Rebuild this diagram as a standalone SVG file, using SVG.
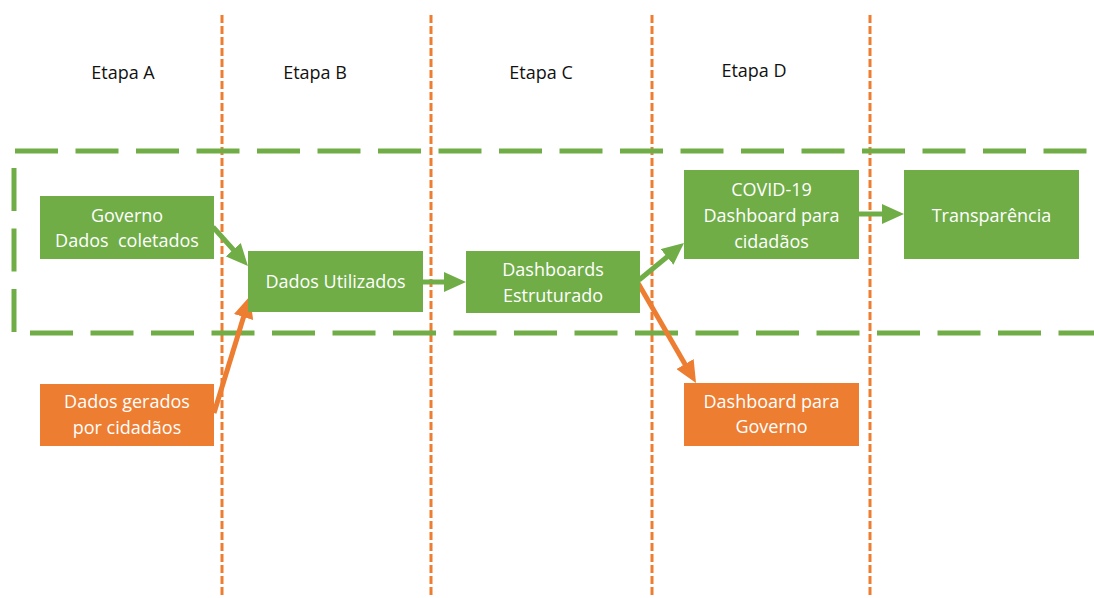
<svg xmlns="http://www.w3.org/2000/svg" width="1094" height="598" viewBox="0 0 1094 598">
  <defs>
    <style>
      .bg { fill: #ffffff; }
      .stage-line { stroke: #ED7D31; stroke-width: 3; stroke-dasharray: 8 3; fill: none; }
      .scope { stroke: #70AD47; stroke-width: 5; stroke-dasharray: 43 17.5; fill: none; }
      .stage-label { font-family: "Open Sans", "Liberation Sans", sans-serif; font-size: 18px; fill: #111111; text-anchor: middle; }
      .box-green { fill: #70AD47; }
      .box-orange { fill: #ED7D31; }
      .box-text { font-family: "Open Sans", "Liberation Sans", sans-serif; font-size: 18px; fill: #ffffff; text-anchor: middle; }
      .link-green { stroke: #70AD47; stroke-width: 5; fill: none; }
      .link-orange { stroke: #ED7D31; stroke-width: 5; fill: none; }
    </style>
    <!-- heads reach 10px past the line end so the butt cap stays hidden -->
    <marker id="head-green" viewBox="0 0 22 20" refX="12" refY="10" markerWidth="22" markerHeight="20" markerUnits="userSpaceOnUse" orient="auto">
      <path d="M0,0 L22,10 L0,20 z" fill="#70AD47"/>
    </marker>
    <marker id="head-orange" viewBox="0 0 22 20" refX="12" refY="10" markerWidth="22" markerHeight="20" markerUnits="userSpaceOnUse" orient="auto">
      <path d="M0,0 L22,10 L0,20 z" fill="#ED7D31"/>
    </marker>
  </defs>

  <rect class="bg" x="0" y="0" width="1094" height="598"/>

  <!-- stage separators -->
  <g id="stages">
    <line class="stage-line" x1="222" y1="15" x2="222" y2="598"/>
    <line class="stage-line" x1="431" y1="15" x2="431" y2="598"/>
    <line class="stage-line" x1="652" y1="15" x2="652" y2="598"/>
    <line class="stage-line" x1="870" y1="15" x2="870" y2="598"/>
    <text class="stage-label" x="123" y="79">Etapa A</text>
    <text class="stage-label" x="315" y="79">Etapa B</text>
    <text class="stage-label" x="541" y="79">Etapa C</text>
    <text class="stage-label" x="754" y="77">Etapa D</text>
  </g>

  <!-- open dashed frame around the public flow -->
  <g id="scope">
    <line class="scope" x1="15" y1="151" x2="1094" y2="151"/>
    <line class="scope" x1="30" y1="333" x2="1094" y2="333"/>
    <line class="scope" x1="14" y1="168" x2="14" y2="333"/>
  </g>

  <!-- connectors -->
  <g id="connectors">
    <line class="link-green" x1="213" y1="227" x2="241.3" y2="258.6" marker-end="url(#head-green)"/>
    <line class="link-orange" x1="214" y1="413" x2="247.1" y2="305.6" marker-end="url(#head-orange)"/>
    <line class="link-green" x1="423" y1="282" x2="456" y2="282" marker-end="url(#head-green)"/>
    <line class="link-green" x1="639" y1="280" x2="676.3" y2="249.3" marker-end="url(#head-green)"/>
    <line class="link-orange" x1="638" y1="283" x2="691" y2="374.4" marker-end="url(#head-orange)"/>
    <line class="link-green" x1="859" y1="214" x2="894" y2="214" marker-end="url(#head-green)"/>
  </g>

  <g id="governo">
    <rect class="box-green" x="40" y="196" width="174" height="63"/>
    <text class="box-text" x="127" y="222">Governo</text>
    <text class="box-text" x="127" y="247" xml:space="preserve">Dados  coletados</text>
  </g>

  <g id="dados-gerados">
    <rect class="box-orange" x="40" y="384" width="174" height="62"/>
    <text class="box-text" x="127" y="408">Dados gerados</text>
    <text class="box-text" x="127" y="434">por cidadãos</text>
  </g>

  <g id="dados-utilizados">
    <rect class="box-green" x="248" y="251" width="175" height="61"/>
    <text class="box-text" x="335.5" y="288">Dados Utilizados</text>
  </g>

  <g id="dashboards-estruturado">
    <rect class="box-green" x="466" y="251" width="174" height="62"/>
    <text class="box-text" x="553" y="276">Dashboards</text>
    <text class="box-text" x="553" y="302">Estruturado</text>
  </g>

  <g id="dashboard-cidadaos">
    <rect class="box-green" x="684" y="170" width="175" height="89"/>
    <text class="box-text" x="771.5" y="196">COVID-19</text>
    <text class="box-text" x="771.5" y="222">Dashboard para</text>
    <text class="box-text" x="771.5" y="248">cidadãos</text>
  </g>

  <g id="dashboard-governo">
    <rect class="box-orange" x="684" y="383" width="175" height="63"/>
    <text class="box-text" x="771.5" y="408">Dashboard para</text>
    <text class="box-text" x="771.5" y="433">Governo</text>
  </g>

  <g id="transparencia">
    <rect class="box-green" x="904" y="170" width="175" height="89"/>
    <text class="box-text" x="991.5" y="222">Transparência</text>
  </g>
</svg>
